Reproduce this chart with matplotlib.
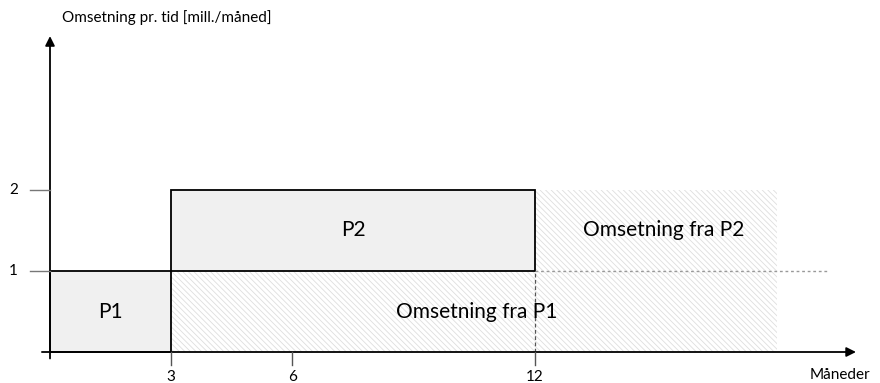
import matplotlib
matplotlib.use("Agg")
import matplotlib.pyplot as plt
from matplotlib.patches import Rectangle

plt.rcParams['font.family'] = ['Lato', 'DejaVu Sans']
plt.rcParams['hatch.linewidth'] = 0.6
plt.rcParams['hatch.color'] = '#dedede'

# Data
products = ["P1", "P2"]
prod_start = [0, 3]          # month development starts
prod_end = [3, 12]           # month product launched
prod_bottom = [0, 1]         # stacked revenue base (mill./month)
prod_height = [1, 1]         # revenue per product (mill./month)
revenue_labels = ["Omsetning fra P1", "Omsetning fra P2"]
revenue_end = 18             # hatched revenue extends to
x_ticks = [3, 6, 12]
y_ticks = [1, 2]
x_label = "Måneder"
y_label = "Omsetning pr. tid [mill./måned]"

fig = plt.figure(figsize=(8.8, 3.83), dpi=100)
ax = fig.add_axes([0, 0, 1, 1])
px_per_month = 40.4
px_per_unit = 81.0
x0_px, y0_px = 50, 352
ax.set_xlim(-x0_px / px_per_month, (880 - x0_px) / px_per_month)
ax.set_ylim(-(383 - y0_px) / px_per_unit, y0_px / px_per_unit)
ax.axis('off')

# hatched revenue regions
for s, e, b, h in zip(prod_start, prod_end, prod_bottom, prod_height):
    ax.add_patch(Rectangle((e, b), revenue_end - e, h, facecolor='white',
                           edgecolor='#dedede', hatch='\\\\\\\\\\\\', lw=0, zorder=1))
# product boxes
for s, e, b, h, p in zip(prod_start, prod_end, prod_bottom, prod_height, products):
    ax.add_patch(Rectangle((s, b), e - s, h, facecolor='#f0f0f0',
                           edgecolor='black', lw=1.3, zorder=3))
    ax.text((s + e) / 2, b + h / 2, p, ha='center', va='center', fontsize=15, zorder=5)

# revenue labels
ax.text(10.55, 0.5, revenue_labels[0], ha='center', va='center', fontsize=15, zorder=5)
ax.text(15.2, 1.5, revenue_labels[1], ha='center', va='center', fontsize=15, zorder=5)

# dashed guides
ax.plot([prod_end[1], prod_end[1]], [0, prod_bottom[1]], color='#555555', lw=0.9,
        ls=(0, (3, 2)), zorder=4)
ax.plot([prod_end[1], 19.25], [1, 1], color='#999999', lw=1.0, ls=(0, (2, 2)), zorder=4)

# axes arrows
ax.annotate('', xy=(19.95, 0), xytext=(-0.2, 0),
            arrowprops=dict(arrowstyle='-|>', color='black', lw=1.3, mutation_scale=14,
                            shrinkA=0, shrinkB=0), zorder=6)
ax.annotate('', xy=(0, 3.9), xytext=(0, -0.08),
            arrowprops=dict(arrowstyle='-|>', color='black', lw=1.3, mutation_scale=14,
                            shrinkA=0, shrinkB=0), zorder=6)

# ticks
for t in x_ticks:
    ax.plot([t, t], [0, -0.16], color='#555555', lw=1.0, zorder=6)
    ax.text(t, -0.22, str(t), ha='center', va='top', fontsize=11)
for t in y_ticks:
    ax.plot([-0.5, 0], [t, t], color='#777777', lw=1.0, zorder=6)
    ax.text(-0.9, t, str(t), ha='center', va='center', fontsize=11)

ax.text((870 - x0_px) / px_per_month, -0.2, x_label, ha='right', va='top', fontsize=11)
ax.text((62 - x0_px) / px_per_month, 4.13, y_label, ha='left', va='center', fontsize=11)

fig.savefig('out.png', dpi=100)
